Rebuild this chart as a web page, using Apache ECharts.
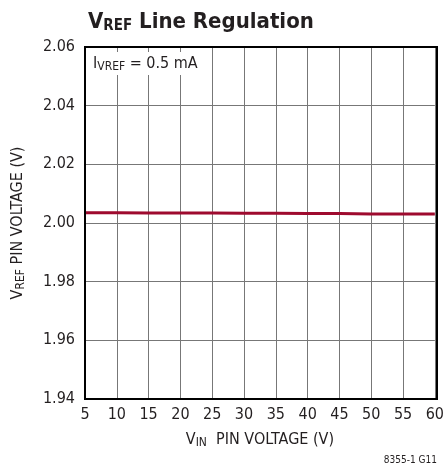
<!DOCTYPE html>
<html>
<head>
<meta charset="utf-8">
<script src="https://cdn.jsdelivr.net/npm/echarts@6/dist/echarts.min.js"></script>
<style>
  html, body { margin: 0; padding: 0; background: #fff; }
  #chart { width: 447px; height: 470px; }
</style>
</head>
<body>
<div id="chart"></div>
<script>
// 读图得到的数据
var vinValues = [5, 10, 15, 20, 25, 30, 35, 40, 45, 50, 55, 60];
var vrefValues = [2.0035, 2.0035, 2.0034, 2.0034, 2.0034, 2.0033, 2.0033, 2.0032, 2.0032, 2.0031, 2.0031, 2.0031];
var yTicks = [1.94, 1.96, 1.98, 2.00, 2.02, 2.04, 2.06];

var font = '"Liberation Sans Narrow", "DejaVu Sans Condensed", sans-serif';

var chart = echarts.init(document.getElementById('chart'));
var option = {
  animation: false,
  title: {
    text: '{v|V}{s|REF}{v| Line Regulation}',
    left: 83,
    top: 5,
    textStyle: {
      rich: {
        v: { fontFamily: font, fontWeight: 'bold', fontSize: 22, color: '#231f20' },
        s: { fontFamily: font, fontWeight: 'bold', fontSize: 15, color: '#231f20', padding: [9, 0, 0, 0] }
      }
    }
  },
  grid: { left: 85, right: 10, top: 47, bottom: 71 },
  xAxis: {
    type: 'value',
    min: 5,
    max: 60,
    interval: 5,
    name: '{v|V}{s|IN}{v|  PIN VOLTAGE (V)}',
    nameLocation: 'middle',
    nameGap: 31,
    nameTextStyle: {
      rich: {
        v: { fontFamily: font, fontSize: 16, color: '#231f20' },
        s: { fontFamily: font, fontSize: 12, color: '#231f20', padding: [7, 0, 0, 0] }
      }
    },
    axisLine: { show: false },
    axisTick: { show: false },
    axisLabel: { fontFamily: font, fontSize: 16, color: '#231f20', margin: 8 },
    splitLine: { show: true, lineStyle: { color: '#777', width: 1 } }
  },
  yAxis: {
    type: 'value',
    min: 1.94,
    max: 2.06,
    interval: 0.02,
    name: '{v|V}{s|REF}{v| PIN VOLTAGE (V)}',
    nameLocation: 'middle',
    nameGap: 58,
    nameTextStyle: {
      rich: {
        v: { fontFamily: font, fontSize: 16, color: '#231f20' },
        s: { fontFamily: font, fontSize: 12, color: '#231f20', padding: [7, 0, 0, 0] }
      }
    },
    axisLine: { show: false },
    axisTick: { show: false },
    axisLabel: {
      fontFamily: font, fontSize: 16, color: '#231f20', margin: 10,
      formatter: function (v) { return v.toFixed(2); }
    },
    splitLine: { show: true, lineStyle: { color: '#777', width: 1 } }
  },
  graphic: [
    {
      type: 'rect',
      shape: { x: 85, y: 47, width: 352, height: 352 },
      style: { fill: 'none', stroke: '#000', lineWidth: 2 },
      z: 10
    },
    {
      type: 'text',
      left: 91,
      top: 52,
      z: 11,
      style: {
        text: '{v|I}{s|VREF}{v| = 0.5 mA}',
        backgroundColor: '#fff',
        padding: [2, 3, 2, 2],
        rich: {
          v: { fontFamily: font, fontSize: 16, fill: '#231f20' },
          s: { fontFamily: font, fontSize: 12, fill: '#231f20', padding: [7, 0, 0, 0] }
        }
      }
    },
    {
      type: 'text',
      right: 10,
      bottom: 5,
      style: { text: '8355-1 G11', fontFamily: font, fontSize: 10, fill: '#231f20' }
    }
  ],
  series: [
    {
      type: 'line',
      data: vinValues.map(function (x, i) { return [x, vrefValues[i]]; }),
      showSymbol: false,
      lineStyle: { color: '#9e0a2e', width: 3 },
      z: 5
    }
  ]
};
chart.setOption(option);
</script>
</body>
</html>
